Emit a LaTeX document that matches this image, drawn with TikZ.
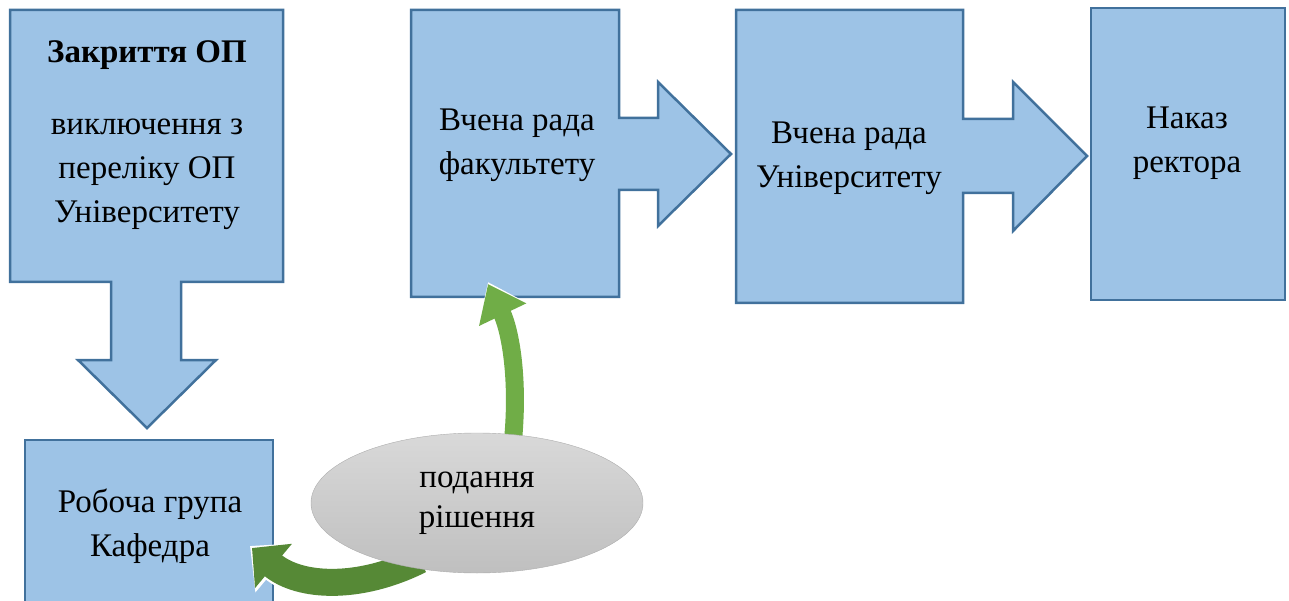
\documentclass[tikz,border=0pt]{standalone}
\usepackage{fontspec}
\setmainfont{Liberation Serif}
\newfontfamily\tnr{Liberation Serif}
\usetikzlibrary{shapes.geometric,calc,arrows.meta}
\definecolor{c0}{RGB}{157,195,230}
\definecolor{c1}{RGB}{65,113,156}
\definecolor{c2}{RGB}{112,173,71}
\definecolor{c3}{RGB}{86,137,54}
\tikzset{%
  blk/.style={draw=c1,fill=c0,line width=2.5pt,line join=miter},
  lbl/.style={align=center,font=\tnr\fontsize{33}{44}\selectfont},
  flow/.style={line width=#1},
  flow/.default=18pt
}
\begin{document}
\begin{tikzpicture}[x=1pt,y=-1pt]
  \useasboundingbox (0,0) rectangle (1289,601);
  %% blocks
  \filldraw[blk] (10,10) -- (283,10) -- (283,282) -- (181,282) -- (181,360) -- (216,360)
    -- (147,428) -- (78,360) -- (111,360) -- (111,282) -- (10,282) -- cycle;
  \filldraw[blk] (411,10) -- (619,10) -- (619,118) -- (658,118) -- (658,82) -- (731,154)
    -- (658,226) -- (658,190) -- (619,190) -- (619,297) -- (411,297) -- cycle;
  \filldraw[blk] (736,10) -- (963,10) -- (963,119) -- (1013,119) -- (1013,82) -- (1087,156)
    -- (1013,231) -- (1013,193) -- (963,193) -- (963,303) -- (736,303) -- cycle;
  \filldraw[blk] (1091,8) rectangle (1285,300);
  \filldraw[blk] (25,440) rectangle (273,620);
  \coordinate (facb) at (515,297);
  \coordinate (kafe) at (273,530);
  %%
  \node[lbl] (zak) at (147,135) {\textbf{Закриття ОП}\\[28pt]виключення з\\переліку ОП\\Університету};
  \node[lbl] (fac) at (517,145) {Вчена рада\\факультету};
  \node[lbl] (uni) at (849,158) {Вчена рада\\Університету};
  \node[lbl] (rek) at (1187,143) {Наказ\\ректора};
  \node[lbl] (kaf) at (150,526) {Робоча група\\Кафедра};
  %% green arrows
  \coordinate (pa) at (512,450);
  \coordinate (pb) at (420,560);
  \draw[flow=22pt,white,-{Triangle[length=40pt,width=58pt]}] (pa)
    .. controls (520,380) and (510,330) .. ($(facb)+(-27,-15)$);
  \draw[flow,c2,-{Triangle[length=34pt,width=50pt]}] (pa)
    .. controls (520,380) and (510,330) .. ($(facb)+(-27,-13)$);
  \draw[flow=31pt,white,-{Triangle[length=34pt,width=62pt]}] (pb)
    .. controls (360,590) and (300,588) .. ($(kafe)+(-23,16)$);
  \draw[flow=27pt,c3,-{Triangle[length=28pt,width=56pt]}] (pb)
    .. controls (360,590) and (300,588) .. ($(kafe)+(-21,18)$);
  %%
  \node[ellipse,minimum width=332,minimum height=140,inner sep=0pt,draw=black!32,
    top color=black!15,bottom color=black!25,lbl,font=\tnr\fontsize{33}{40}\selectfont]
    (pod) at (477,503) {подання\\рішення};
\end{tikzpicture}
\end{document}
